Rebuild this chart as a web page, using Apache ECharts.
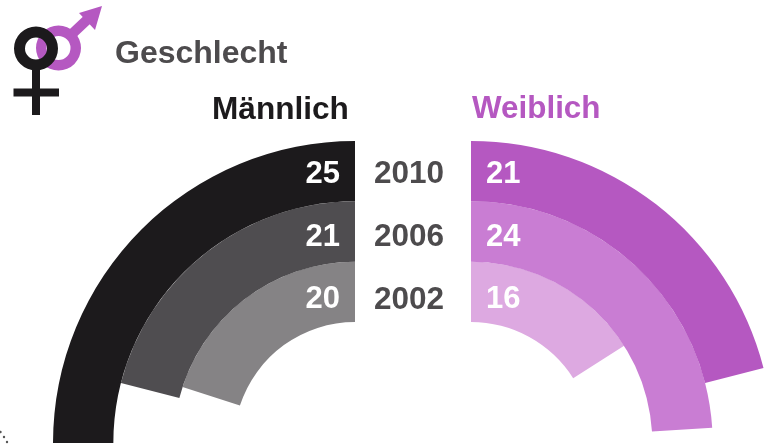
<!DOCTYPE html>
<html>
<head>
<meta charset="utf-8">
<style>
  html, body { margin: 0; padding: 0; background: #fff; }
  #main { width: 770px; height: 445px; }
</style>
<script src="https://cdn.jsdelivr.net/npm/echarts@6/dist/echarts.min.js"></script>
</head>
<body>
<div id="main"></div>
<script>
// inner ring first
const years = ['2002', '2006', '2010']
const maleValues = [20, 21, 25]
const femaleValues = [16, 24, 21]
const maleColors = ['#858385', '#4f4d50', '#1c1a1c']
const femaleColors = ['#dda9e1', '#c97dd3', '#b558c1']

const font = '"Liberation Sans", Arial, sans-serif'
const purple = '#b558c1'
const black = '#1c1a1c'
const grey = '#4d4b4d'

const chart = echarts.init(document.getElementById('main'))

function ringSeries (values, colors, polarIndex, align, offsetX) {
  return {
    type: 'bar',
    coordinateSystem: 'polar',
    polarIndex: polarIndex,
    barWidth: '100%',
    silent: true,
    animation: false,
    data: values.map((v, i) => ({
      value: v,
      itemStyle: { color: colors[i] },
      // numbers sit in a straight column, spaced a bit wider than the rings
      label: { offset: [offsetX, 3 + (2 - i) * 2.5] }
    })),
    label: {
      show: true,
      position: 'insideStart',
      rotate: 0,
      distance: 0,
      align: align,
      color: '#fff',
      fontFamily: font,
      fontWeight: 'bold',
      fontSize: 31
    }
  }
}

function heading (text, left, top, color, size) {
  return {
    text: text,
    left: left,
    top: top,
    padding: 0,
    textStyle: { color: color, fontFamily: font, fontWeight: 'bold', fontSize: size }
  }
}

const option = {
  backgroundColor: '#fff',
  animation: false,
  title: [
    heading('Geschlecht', 115, 38, grey, 32),
    heading('Männlich', 212, 94, black, 31.6),
    heading('Weiblich', 472, 94, purple, 31.4)
  ],
  polar: [
    { center: [355, 443], radius: [121, 302] },
    { center: [471, 443], radius: [121, 302] }
  ],
  angleAxis: [
    { polarIndex: 0, type: 'value', min: 0, max: 100, startAngle: 90, clockwise: false, show: false },
    { polarIndex: 1, type: 'value', min: 0, max: 100, startAngle: 90, clockwise: true, show: false }
  ],
  radiusAxis: [
    { polarIndex: 0, type: 'category', data: years, show: false },
    { polarIndex: 1, type: 'category', data: years, show: false }
  ],
  series: [
    ringSeries(maleValues, maleColors, 0, 'right', -15),
    ringSeries(femaleValues, femaleColors, 1, 'left', 15)
  ],
  graphic: [
    // year labels between the two halves
    ...years.map((y, i) => ({
      type: 'text',
      x: 409,
      y: 300 - i * 63,
      style: {
        text: y,
        fill: grey,
        font: 'bold 31.5px ' + font,
        textAlign: 'center',
        textVerticalAlign: 'middle'
      }
    })),
    // gender icon
    {
      type: 'ring',
      shape: { cx: 58.5, cy: 48, r: 22.5, r0: 12 },
      style: { fill: purple }
    },
    {
      type: 'line',
      shape: { x1: 72, y1: 34, x2: 90, y2: 17 },
      style: { stroke: purple, lineWidth: 10 }
    },
    {
      type: 'polygon',
      shape: { points: [[79, 13], [102, 6], [95, 30]] },
      style: { fill: purple }
    },
    {
      type: 'ring',
      shape: { cx: 36, cy: 48.5, r: 22, r0: 11 },
      style: { fill: black }
    },
    {
      type: 'rect',
      shape: { x: 32, y: 66, width: 8, height: 49 },
      style: { fill: black }
    },
    {
      type: 'rect',
      shape: { x: 13.5, y: 88.5, width: 45.5, height: 8 },
      style: { fill: black }
    },
    // stray dots in the lower left corner of the source image
    { type: 'circle', shape: { cx: 0.5, cy: 432, r: 1.2 }, style: { fill: '#555' } },
    { type: 'circle', shape: { cx: 4, cy: 437, r: 1.2 }, style: { fill: '#555' } },
    { type: 'circle', shape: { cx: 7, cy: 442, r: 1.2 }, style: { fill: '#555' } }
  ]
}

chart.setOption(option)
</script>
</body>
</html>
